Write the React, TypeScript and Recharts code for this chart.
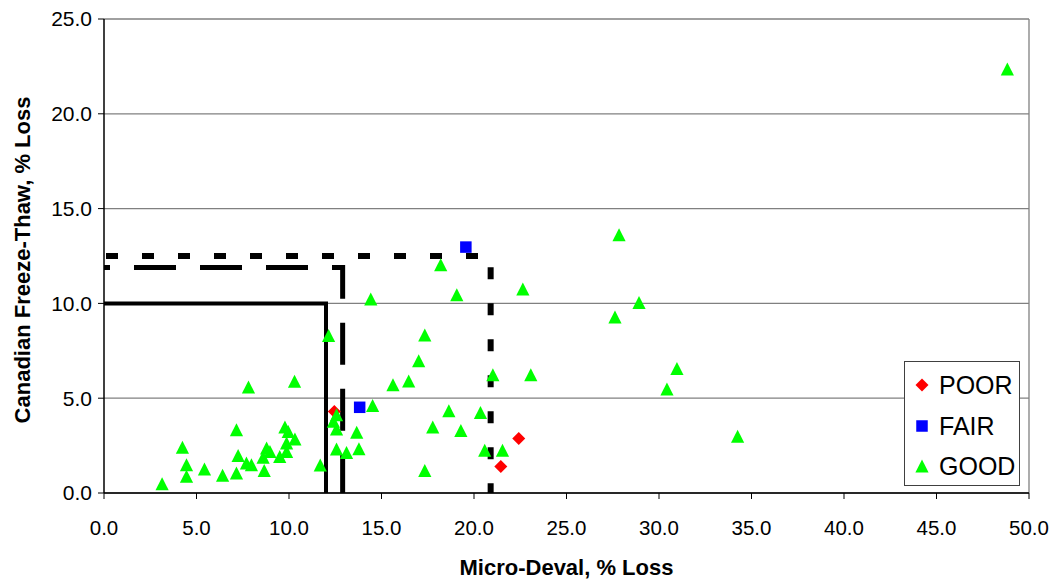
import React from 'react';
import { ScatterChart, Scatter, XAxis, YAxis, CartesianGrid, ReferenceLine } from 'recharts';

const FONT = '"Liberation Sans", Arial, sans-serif';

const xTicks = [0, 5, 10, 15, 20, 25, 30, 35, 40, 45, 50];
const yTicks = [0, 5, 10, 15, 20, 25];

const poorX = [12.45, 22.42, 21.45];
const poorY = [4.3, 2.88, 1.4];

const fairX = [19.56, 13.82];
const fairY = [12.97, 4.52];

const goodX = [
  12.14, 7.81, 10.3, 7.16, 4.24, 4.46, 4.46, 3.14, 5.43, 6.41, 7.25, 7.16, 7.7, 7.97, 8.66, 8.79, 8.97, 8.6, 9.5,
  9.78, 9.96, 10.32, 9.87, 9.87, 11.69, 18.2, 22.64, 14.42, 19.07, 17.34, 17.01, 15.62, 16.47, 21.02, 23.07, 14.52,
  12.57, 12.4, 12.57, 13.66, 12.57, 13.11, 13.78, 18.64, 20.35, 17.77, 19.29, 17.34, 20.58, 21.54, 27.84, 28.92,
  27.62, 30.97, 30.43, 34.25, 48.83,
];
const goodY = [
  8.31, 5.59, 5.89, 3.34, 2.41, 1.49, 0.88, 0.49, 1.27, 0.93, 1.98, 1.05, 1.58, 1.49, 1.19, 2.37, 2.19, 1.88, 1.93,
  3.48, 3.25, 2.85, 2.64, 2.19, 1.48, 12.04, 10.76, 10.23, 10.46, 8.33, 6.98, 5.71, 5.91, 6.24, 6.24, 4.62, 4.13,
  3.78, 3.38, 3.2, 2.32, 2.14, 2.34, 4.34, 4.25, 3.48, 3.29, 1.19, 2.25, 2.25, 13.62, 10.05, 9.28, 6.56, 5.49, 2.99,
  22.36,
];

// specification limit boxes (corner paths)
const solidX = [0, 12, 12];
const solidY = [10, 10, 0];
const longDashX = [0, 12.9, 12.9];
const longDashY = [11.9, 11.9, 0];
const shortDashX = [0, 20.9, 20.9];
const shortDashY = [12.5, 12.5, 0];

const legendNames = ['POOR', 'FAIR', 'GOOD'];

const toPoints = (xs: number[], ys: number[]) => xs.map((x, i) => ({ x, y: ys[i] }));

const Marker = ({ kind, cx, cy }: { kind: string; cx: number; cy: number }) => {
  if (kind === 'POOR') {
    const r = 6.5;
    return <polygon points={`${cx},${cy - r} ${cx + r},${cy} ${cx},${cy + r} ${cx - r},${cy}`} fill="#FF0000" />;
  }
  if (kind === 'FAIR') {
    return <rect x={cx - 5.75} y={cy - 5.75} width={11.5} height={11.5} fill="#0000FF" />;
  }
  return <polygon points={`${cx},${cy - 6.5} ${cx + 6.6},${cy + 6.5} ${cx - 6.6},${cy + 6.5}`} fill="#00FF00" />;
};

const noShape = () => <g />;

const LegendBox = () => (
  <div
    style={{
      position: 'absolute',
      left: 904,
      top: 361,
      width: 116,
      height: 125,
      boxSizing: 'border-box',
      border: '1px solid #404040',
      background: '#fff',
      fontFamily: FONT,
      fontSize: 25,
      color: '#000',
    }}
  >
    {legendNames.map((n, i) => (
      <div
        key={n}
        style={{ position: 'absolute', left: 0, top: 6 + i * 40.5, height: 34, display: 'flex', alignItems: 'center' }}
      >
        <svg width={34} height={34}>
          <Marker kind={n} cx={17} cy={17} />
        </svg>
        <span style={{ lineHeight: '34px' }}>{n}</span>
      </div>
    ))}
  </div>
);

const YTitle = (props: any) => {
  const { x, y, height } = props.viewBox;
  const cx = x + 22;
  const cy = y + height / 2 + 4;
  return (
    <text
      x={cx}
      y={cy}
      transform={`rotate(-90, ${cx}, ${cy})`}
      textAnchor="middle"
      dominantBaseline="central"
      fontFamily={FONT}
      fontWeight="bold"
      fontSize={22}
      fill="#000"
    >
      Canadian Freeze-Thaw, % Loss
    </text>
  );
};

const XTitle = (props: any) => {
  const { x, y, width } = props.viewBox;
  return (
    <text
      x={x + width / 2}
      y={y + 74}
      textAnchor="middle"
      dominantBaseline="central"
      fontFamily={FONT}
      fontWeight="bold"
      fontSize={22}
      fill="#000"
    >
      Micro-Deval, % Loss
    </text>
  );
};

const xTickStyle = { fontFamily: FONT, fontSize: 20.5, fill: '#000' };
const yTickStyle = { fontFamily: FONT, fontSize: 21, fill: '#000' };

export default function App() {
  return (
    <div style={{ position: 'absolute', left: 0, top: 0, width: 1055, height: 582, background: '#fff' }}>
      <ScatterChart width={1055} height={582} margin={{ top: 19, right: 26, left: 0, bottom: 4 }}>
        <CartesianGrid horizontal vertical={false} stroke="#808080" strokeWidth={1.3} />
        <XAxis
          type="number"
          dataKey="x"
          domain={[0, 50]}
          ticks={xTicks}
          allowDataOverflow
          tickFormatter={(v: number) => v.toFixed(1)}
          height={85}
          tickSize={6}
          tickMargin={21}
          tick={xTickStyle}
          axisLine={{ stroke: '#000', strokeWidth: 1.5 }}
          tickLine={{ stroke: '#000' }}
          label={<XTitle />}
        />
        <YAxis
          type="number"
          dataKey="y"
          domain={[0, 25]}
          ticks={yTicks}
          allowDataOverflow
          tickFormatter={(v: number) => v.toFixed(1)}
          width={104}
          tickSize={6}
          tickMargin={6}
          tick={yTickStyle}
          axisLine={{ stroke: '#000', strokeWidth: 1.5 }}
          tickLine={{ stroke: '#000' }}
          label={<YTitle />}
        />
        <ReferenceLine x={50} stroke="#808080" strokeWidth={1.3} />

        <Scatter
          name="solid"
          data={toPoints(solidX, solidY)}
          line={{ stroke: '#000', strokeWidth: 4 }}
          shape={noShape}
          legendType="none"
          isAnimationActive={false}
        />
        <Scatter
          name="longdash"
          data={toPoints(longDashX, longDashY)}
          line={{ stroke: '#000', strokeWidth: 5, strokeDasharray: '42 24', strokeDashoffset: 36 }}
          shape={noShape}
          legendType="none"
          isAnimationActive={false}
        />
        <Scatter
          name="shortdash"
          data={toPoints(shortDashX, shortDashY)}
          line={{ stroke: '#000', strokeWidth: 6, strokeDasharray: '12 24', strokeDashoffset: -2 }}
          shape={noShape}
          legendType="none"
          isAnimationActive={false}
        />

        <Scatter
          name="POOR"
          data={toPoints(poorX, poorY)}
          fill="#FF0000"
          shape={(p: any) => <Marker kind="POOR" cx={p.cx} cy={p.cy} />}
          isAnimationActive={false}
        />
        <Scatter
          name="FAIR"
          data={toPoints(fairX, fairY)}
          fill="#0000FF"
          shape={(p: any) => <Marker kind="FAIR" cx={p.cx} cy={p.cy} />}
          isAnimationActive={false}
        />
        <Scatter
          name="GOOD"
          data={toPoints(goodX, goodY)}
          fill="#00FF00"
          shape={(p: any) => <Marker kind="GOOD" cx={p.cx} cy={p.cy} />}
          isAnimationActive={false}
        />
      </ScatterChart>
      <LegendBox />
    </div>
  );
}
